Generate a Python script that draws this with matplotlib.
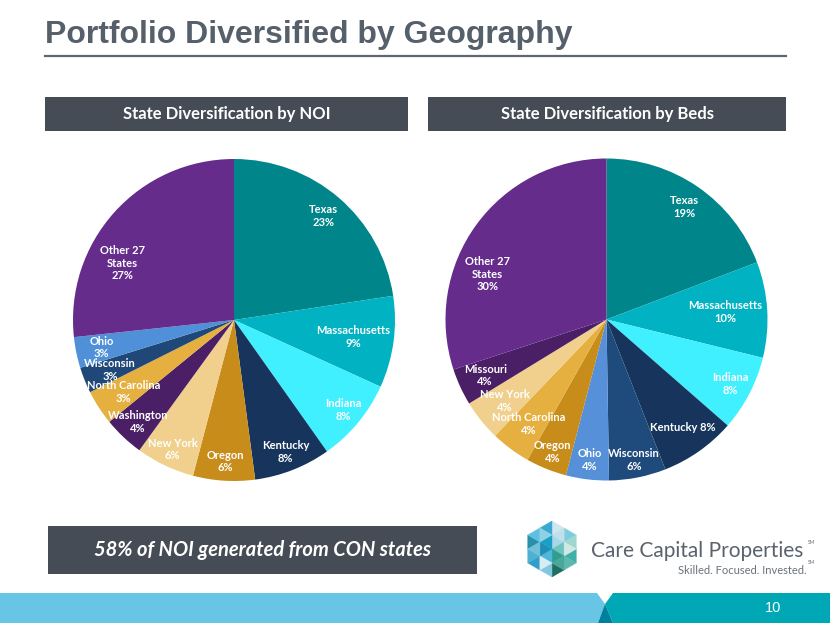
import numpy as np
import matplotlib.pyplot as plt
from matplotlib.patches import Rectangle, Polygon

# --- data ---
noi_states = ["Texas", "Massachusetts", "Indiana", "Kentucky", "Oregon", "New York",
              "Washington", "North Carolina", "Wisconsin", "Ohio", "Other 27\nStates"]
noi_values = [22.6, 9.2, 8.4, 7.7, 6.2, 5.9, 4.1, 3.5, 2.6, 3.1, 26.7]
noi_pct = ["23%", "9%", "8%", "8%", "6%", "6%", "4%", "3%", "3%", "3%", "27%"]
noi_colors = ["#00858a", "#00b2c2", "#40f0ff", "#17355c", "#c88c1b", "#f0d08c",
              "#4a1f66", "#e6b040", "#1f4878", "#5090d8", "#652c8c"]

bed_states = ["Texas", "Massachusetts", "Indiana", "Kentucky", "Wisconsin", "Ohio",
              "Oregon", "North Carolina", "New York", "Missouri", "Other 27\nStates"]
bed_values = [19.2, 9.6, 7.6, 7.6, 5.7, 4.3, 4.1, 4.0, 4.1, 3.7, 30.0]
bed_pct = ["19%", "10%", "8%", "8%", "6%", "4%", "4%", "4%", "4%", "4%", "30%"]
bed_colors = ["#00858a", "#00b2c2", "#40f0ff", "#17355c", "#1f4a7c", "#5590d8",
              "#c88c1b", "#e6b040", "#f0d08c", "#4a1f66", "#652c8c"]

W, H = 830, 623
DARK = "#454c55"
fig = plt.figure(figsize=(W / 100, H / 100), dpi=100)
fig.patch.set_facecolor("white")

# background axes in pixel coordinates for the slide decorations
bg = fig.add_axes([0, 0, 1, 1])
bg.set_xlim(0, W)
bg.set_ylim(H, 0)
bg.axis("off")

bg.text(45, 43, "Portfolio Diversified by Geography", fontsize=23, fontweight="bold",
        family="Liberation Sans", color="#56606b", va="baseline", ha="left")
bg.plot([45, 786], [55.5, 55.5], color="#5f6670", lw=1.6)

# header boxes
for x0, x1, txt in [(45, 408, "State Diversification by NOI"),
                    (428, 786, "State Diversification by Beds")]:
    bg.add_patch(Rectangle((x0, 97), x1 - x0, 34, facecolor=DARK, edgecolor="none"))
    bg.text((x0 + x1) / 2, 114.5, txt, fontsize=12, fontweight="bold", family="Lato",
            color="white", ha="center", va="center")

# bottom statement box
bg.add_patch(Rectangle((48, 526), 429, 48, facecolor=DARK, edgecolor="none"))
bg.text(262, 550, "58% of NOI generated from CON states", fontsize=14.5, fontweight="bold",
        style="italic", family="Lato", color="white", ha="center", va="center")

# bottom band
bg.add_patch(Polygon([(0, 593), (597, 593), (605, 604), (598, 623), (0, 623)],
                     closed=True, facecolor="#68c5e6", edgecolor="none"))
bg.add_patch(Polygon([(613, 593), (W, 593), (W, H), (613, 623), (605, 604)],
                     closed=True, facecolor="#00a8b5", edgecolor="none"))
bg.add_patch(Polygon([(605, 604), (613, 623), (598, 623)],
                     closed=True, facecolor="#00809f", edgecolor="none"))
bg.text(773, 608, "10", fontsize=10.5, family="Liberation Sans", color="white",
        ha="center", va="center")

# logo: hexagon made of small triangles
cx, cy, r = 552, 549, 28
verts = [(cx + r * np.cos(np.radians(a)), cy - r * np.sin(np.radians(a)))
         for a in [90, 30, -30, -90, -150, 150]]
tri_cols = ["#a8d8e8", "#cfe6ee", "#7fcbe0", "#bfe0ea",
            "#6fc4c0", "#9fd6d0", "#3fb0a8", "#cfe8e4",
            "#2f9e90", "#5fb8b0", "#1f6e60", "#4aa89a",
            "#4fb8d8", "#80c8e0", "#2f9ec8", "#d8ecf2",
            "#1f8fb8", "#4fb0d0", "#2a8fa8", "#6fc0d8",
            "#1aa0c8", "#5cc0e0", "#3aa8d0", "#8fd0e4"]
k = 0
for i in range(6):
    a = np.array([cx, cy])
    b = np.array(verts[i])
    c = np.array(verts[(i + 1) % 6])
    ab, bc, ca = (a + b) / 2, (b + c) / 2, (c + a) / 2
    for tri in [(a, ab, ca), (ab, b, bc), (ca, bc, c), (ab, bc, ca)]:
        bg.add_patch(Polygon(tri, closed=True, facecolor=tri_cols[k],
                             edgecolor=tri_cols[k], lw=0.3))
        k += 1

bg.text(591, 551, "Care Capital Properties", fontsize=15, family="Lato",
        color="#5a636d", ha="left", va="center")
bg.text(808, 542, "SM", fontsize=3.5, family="Lato", color="#5f6872", ha="left", va="center")
bg.text(807, 570, "Skilled. Focused. Invested.", fontsize=8, family="Lato",
        color="#6a727b", ha="right", va="center")
bg.text(808, 563, "SM", fontsize=3.5, family="Lato", color="#5f6872", ha="left", va="center")


def draw_pie(center, radius, values, colors, names, pcts, rfac, joiner):
    px, py = center
    ax = fig.add_axes([(px - radius) / W, (H - py - radius) / H, 2 * radius / W, 2 * radius / H])
    wedges, _ = ax.pie(values, colors=colors, startangle=90, counterclock=False,
                       wedgeprops=dict(linewidth=0))
    ax.set_xlim(-1, 1)
    ax.set_ylim(-1, 1)
    ax.set_aspect("auto")
    ax.axis("off")
    for i, w in enumerate(wedges):
        mid = (w.theta1 + w.theta2) / 2
        if i == len(wedges) - 1:
            mid += 15
        t = np.radians(mid)
        ax.text(rfac[i] * np.cos(t), rfac[i] * np.sin(t), names[i] + joiner[i] + pcts[i],
                ha="center", va="center", fontsize=8, fontweight="bold", family="Lato",
                color="white", linespacing=1.2)


draw_pie((234, 320), 161, noi_values, noi_colors, noi_states, noi_pct,
         [0.85, 0.75, 0.88, 0.88, 0.88, 0.89, 0.87, 0.82, 0.83, 0.84, 0.78],
         ["\n"] * 11)
draw_pie((606.5, 319.5), 161, bed_values, bed_colors, bed_states, bed_pct,
         [0.85, 0.74, 0.87, 0.82, 0.89, 0.88, 0.89, 0.81, 0.81, 0.83, 0.79],
         ["\n", "\n", "\n", " ", "\n", "\n", "\n", "\n", "\n", "\n", "\n"])

fig.savefig("out.png", dpi=100)
